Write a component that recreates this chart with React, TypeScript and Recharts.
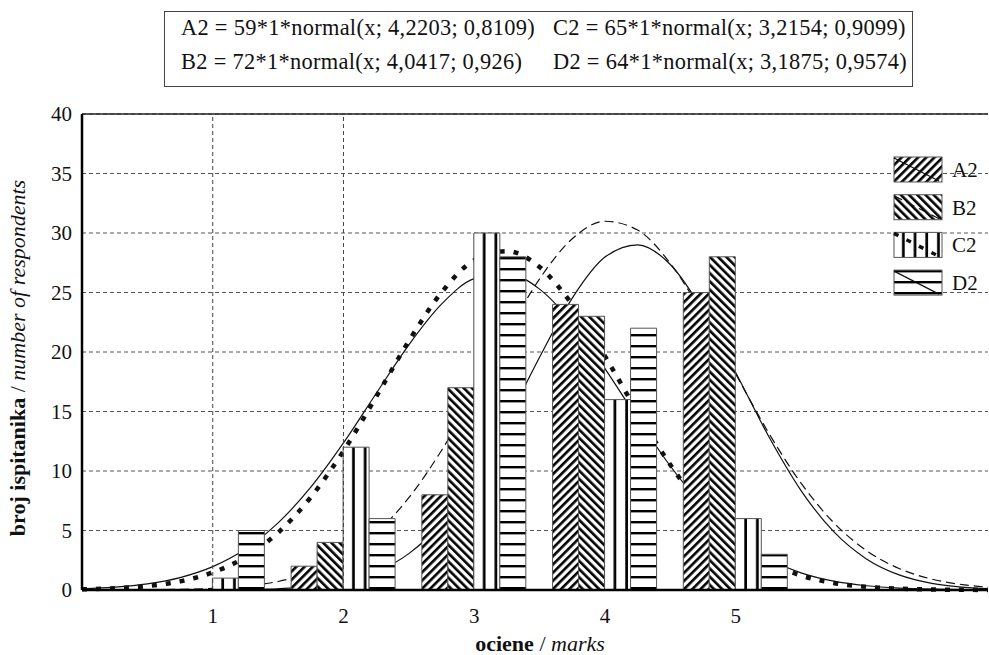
import { ComposedChart, Bar, Line, XAxis, YAxis, CartesianGrid, ReferenceLine, Legend } from 'recharts';

const serif = "'Liberation Serif', 'Times New Roman', serif";

// observed counts per mark
const marks = [1, 2, 3, 4, 5];
const a2Counts = [0, 2, 8, 24, 25];
const b2Counts = [0, 4, 17, 23, 28];
const c2Counts = [1, 12, 30, 16, 6];
const d2Counts = [5, 6, 28, 22, 3];

// fitted normal curves
const curveX = [0, 0.25, 0.5, 0.75, 1, 1.25, 1.5, 1.75, 2, 2.25, 2.5, 2.75, 3, 3.25, 3.5, 3.75, 4, 4.25, 4.5, 4.75, 5, 5.25, 5.5, 5.75, 6, 6.25, 6.5, 6.75, 7];
const a2Fit = [0, 0, 0.001, 0.003, 0.011, 0.035, 0.104, 0.28, 0.684, 1.517, 3.058, 5.609, 9.355, 14.187, 19.563, 24.533, 27.975, 29.007, 27.351, 23.45, 18.283, 12.961, 8.356, 4.899, 2.611, 1.266, 0.558, 0.224, 0.082];
const b2Fit = [0.002, 0.007, 0.021, 0.056, 0.141, 0.33, 0.717, 1.451, 2.729, 4.772, 7.758, 11.725, 16.475, 21.523, 26.141, 29.518, 30.988, 30.244, 27.443, 23.152, 18.158, 13.24, 8.976, 5.657, 3.315, 1.806, 0.915, 0.431, 0.189];
const c2Fit = [0.055, 0.141, 0.332, 0.725, 1.471, 2.765, 4.82, 7.791, 11.678, 16.232, 20.921, 25.004, 27.712, 28.478, 27.138, 23.981, 19.65, 14.931, 10.52, 6.873, 4.164, 2.339, 1.219, 0.589, 0.264, 0.109, 0.042, 0.015, 0.005];
const d2Fit = [0.105, 0.241, 0.519, 1.043, 1.961, 3.441, 5.641, 8.639, 12.358, 16.512, 20.607, 24.025, 26.162, 26.612, 25.285, 22.441, 18.604, 14.406, 10.421, 7.04, 4.444, 2.62, 1.442, 0.742, 0.357, 0.16, 0.067, 0.026, 0.01];

const xTicks = [1, 2, 3, 4, 5];
const yTicks = [0, 5, 10, 15, 20, 25, 30, 35, 40];
const seriesNames = ['A2', 'B2', 'C2', 'D2'];
const fitLabels = [
  'A2 = 59*1*normal(x; 4,2203; 0,8109)',
  'B2 = 72*1*normal(x; 4,0417; 0,926)',
  'C2 = 65*1*normal(x; 3,2154; 0,9099)',
  'D2 = 64*1*normal(x; 3,1875; 0,9574)',
];

const barData = marks.map((mark, i) => ({
  mark,
  A2: a2Counts[i],
  B2: b2Counts[i],
  C2: c2Counts[i],
  D2: d2Counts[i],
}));

const curveData = curveX.map((x, i) => ({
  x,
  A2: a2Fit[i],
  B2: b2Fit[i],
  C2: c2Fit[i],
  D2: d2Fit[i],
}));

const lineStyles: Record<string, { width: number; dash?: string }> = {
  A2: { width: 1.2 },
  B2: { width: 1.2, dash: '9 5' },
  C2: { width: 4.5, dash: '5 9' },
  D2: { width: 1.2 },
};

const HatchDefs = ({ prefix, box }: { prefix: string; box: boolean }) => (
  <defs>
    <pattern id={`${prefix}A2`} patternUnits="userSpaceOnUse" width="5.8" height="5.8" patternTransform="rotate(45)">
      <rect width="5.8" height="5.8" fill="#fff" />
      <rect width="2.6" height="5.8" fill="#000" />
    </pattern>
    <pattern id={`${prefix}B2`} patternUnits="userSpaceOnUse" width="5.8" height="5.8" patternTransform="rotate(-45)">
      <rect width="5.8" height="5.8" fill="#fff" />
      <rect width="2.6" height="5.8" fill="#000" />
    </pattern>
    {box ? (
      <pattern id={`${prefix}C2`} patternUnits="objectBoundingBox" width="0.45" height="1">
        <rect width="30" height="1000" fill="#fff" />
        <rect x="9" width="2.7" height="1000" fill="#000" />
      </pattern>
    ) : (
      <pattern id={`${prefix}C2`} patternUnits="userSpaceOnUse" width="11.7" height="30">
        <rect width="11.7" height="30" fill="#fff" />
        <rect x="9" width="2.7" height="30" fill="#000" />
      </pattern>
    )}
    <pattern id={`${prefix}D2`} patternUnits="userSpaceOnUse" width="30" height="11">
      <rect width="30" height="11" fill="#fff" />
      <rect y="4" width="30" height="2.4" fill="#000" />
    </pattern>
  </defs>
);

const FitLegend = () => (
  <svg width={92} height={145} style={{ display: 'block' }}>
    <HatchDefs prefix="key" box={false} />
    {seriesNames.map((name, i) => {
      const top = 1 + i * 37.7;
      const st = lineStyles[name];
      return (
        <g key={name}>
          <rect x={1} y={top} width={48} height={25} fill={`url(#key${name})`} stroke="#555" />
          <line x1={1} y1={top + 1} x2={46} y2={top + 24} stroke="#111" strokeWidth={Math.min(st.width, 3.5)} strokeDasharray={st.dash} />
          <text x={59} y={top + 20} fontSize={21} fontFamily={serif} fill="#111">{name}</text>
        </g>
      );
    })}
  </svg>
);

const XTitle = ({ viewBox }: any) => {
  const { x = 82, y = 590, width = 906 } = viewBox ?? {};
  return (
    <text x={x + width / 2 + 5} y={y + 61} textAnchor="middle" fontSize={22} fontFamily={serif} fill="#111">
      <tspan fontWeight="bold">ociene</tspan>
      <tspan> / </tspan>
      <tspan fontStyle="italic">marks</tspan>
    </text>
  );
};

const YTitle = ({ viewBox }: any) => {
  const { x = 22, y = 114, height = 476 } = viewBox ?? {};
  const cx = x + 3;
  const cy = y + height / 2 + 6;
  return (
    <text x={cx} y={cy} transform={`rotate(-90, ${cx}, ${cy})`} textAnchor="middle" fontSize={22} fontFamily={serif} fill="#111">
      <tspan fontWeight="bold">broj ispitanika</tspan>
      <tspan> / </tspan>
      <tspan fontStyle="italic">number of respondents</tspan>
    </text>
  );
};

export default function App() {
  return (
    <div style={{ position: 'absolute', left: 0, top: 0, width: 989, height: 655, background: '#fff', fontFamily: serif }}>
      <ComposedChart
        width={989}
        height={655}
        data={barData}
        margin={{ top: 114, right: 1, bottom: 35, left: 22 }}
        barGap={0}
      >
        <HatchDefs prefix="fill" box />
        <CartesianGrid vertical={false} stroke="#555" strokeDasharray="4 3" />
        <XAxis
          dataKey="mark"
          type="number"
          domain={[0, 6.93]}
          ticks={xTicks}
          allowDataOverflow
          height={30}
          tickLine={false}
          tickSize={6}
          tickMargin={12}
          axisLine={{ stroke: '#000', strokeWidth: 2.5 }}
          tick={{ fill: '#111', fontSize: 21, fontFamily: serif }}
          label={<XTitle />}
        />
        <XAxis xAxisId="fit" dataKey="x" type="number" domain={[0, 6.93]} allowDataOverflow hide />
        <YAxis
          domain={[0, 40]}
          ticks={yTicks}
          width={60}
          tickLine={false}
          tickSize={6}
          tickMargin={4}
          axisLine={{ stroke: '#000', strokeWidth: 2.5 }}
          tick={{ fill: '#111', fontSize: 21, fontFamily: serif }}
          label={<YTitle />}
        />
        <ReferenceLine x={1} stroke="#444" strokeDasharray="4 3" />
        <ReferenceLine x={2} stroke="#444" strokeDasharray="4 3" />
        <ReferenceLine y={40} stroke="#222" strokeWidth={1.4} />
        {seriesNames.map((name) => (
          <Line
            key={`fit-${name}`}
            xAxisId="fit"
            data={curveData}
            dataKey={name}
            type="monotone"
            stroke="#111"
            strokeWidth={lineStyles[name].width}
            strokeDasharray={lineStyles[name].dash}
            dot={false}
            activeDot={false}
            legendType="none"
            zIndex={150}
            isAnimationActive={false}
          />
        ))}
        {seriesNames.map((name) => (
          <Bar
            key={`bar-${name}`}
            dataKey={name}
            barSize={26}
            fill={`url(#fill${name})`}
            stroke="#555"
            strokeWidth={1}
            isAnimationActive={false}
          />
        ))}
        <Legend
          layout="vertical"
          align="center"
          verticalAlign="middle"
          content={() => <FitLegend />}
          wrapperStyle={{ left: 893, top: 156, width: 92 }}
        />
      </ComposedChart>
      <svg width={989} height={92} style={{ position: 'absolute', left: 0, top: 0, pointerEvents: 'none' }}>
        <rect x={164.5} y={11.5} width={748} height={75} fill="#fff" stroke="#444" />
        {fitLabels.map((label, i) => (
          <text
            key={label}
            x={i < 2 ? 181 : 553}
            y={i % 2 === 0 ? 35 : 69}
            fontSize={22.4}
            letterSpacing={0.3}
            fontFamily={serif}
            fill="#111"
          >
            {label}
          </text>
        ))}
      </svg>
    </div>
  );
}
